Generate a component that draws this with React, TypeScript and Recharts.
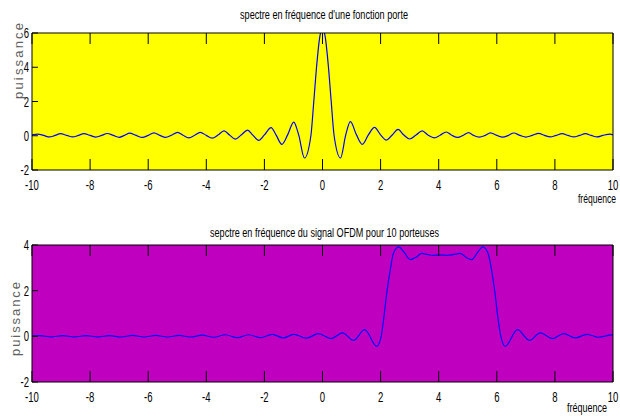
import { CartesianGrid, Line, LineChart, XAxis, YAxis } from "recharts";

const freqTicks = [-10, -8, -6, -4, -2, 0, 2, 4, 6, 8, 10];
const porteTicks = [-2, 0, 2, 4, 6];
const ofdmTicks = [-2, 0, 2, 4];

// spectre d'une fonction porte
const porteFreq = [
  -10, -9.8, -9.6, -9.4, -9.2, -9.02, -8.8, -8.6, -8.4, -8.21, -8.0, -7.8, -7.6, -7.41, -7.2, -7.0,
  -6.82, -6.64, -6.42, -6.2, -6.0, -5.8, -5.6, -5.4, -5.2, -4.99, -4.8, -4.6, -4.4, -4.21, -4.0, -3.8,
  -3.6, -3.39, -3.2, -3.0, -2.8, -2.58, -2.4, -2.2, -2.0, -1.77, -1.6, -1.4, -1.2, -0.99, -0.82, -0.62,
  -0.4, -0.3, -0.2, -0.1, 0, 0.1, 0.2, 0.3, 0.4, 0.62, 0.8, 0.96, 1.17, 1.37, 1.58, 1.79, 2.0, 2.2,
  2.4, 2.6, 2.8, 3.0, 3.22, 3.43, 3.64, 3.85, 4.05, 4.26, 4.45, 4.65, 4.85, 5.03, 5.2, 5.4, 5.6, 5.78,
  6.0, 6.2, 6.4, 6.58, 6.8, 7.0, 7.22, 7.44, 7.64, 7.84, 8.04, 8.25, 8.45, 8.65, 8.85, 9.05, 9.25,
  9.45, 9.65, 9.9, 10,
];
const portePower = [
  0.05, 0.1, 0.02, -0.07, 0.02, 0.12, 0.02, -0.07, 0.02, 0.12, 0.02, -0.08, 0.02, 0.13, 0.02, -0.09,
  0.02, 0.15, 0.02, -0.1, 0.02, 0.17, 0.02, -0.1, 0.03, 0.2, 0.03, -0.12, 0.03, 0.2, 0.02, -0.14,
  0.04, 0.29, 0.04, -0.2, 0.04, 0.33, 0.04, -0.27, 0.05, 0.47, 0.05, -0.5, 0.05, 0.8, 0.05, -1.3,
  0, 2.0, 4.1, 5.7, 6.28, 5.7, 4.1, 2.0, 0, -1.3, 0.05, 0.82, 0.05, -0.5, 0.05, 0.49, 0.05, -0.25,
  0.04, 0.37, 0.04, -0.19, 0.04, 0.29, 0.03, -0.12, 0.03, 0.22, 0.03, -0.1, 0.03, 0.18, 0.02, -0.08, 0.02, 0.17,
  0.02, -0.08, 0.02, 0.16, 0.02, -0.08, 0.02, 0.14, 0.02, -0.07, 0.02, 0.12, 0.02, -0.07, 0.02, 0.12, 0.02,
  -0.07, 0.02, 0.1, 0.05,
];

// spectre du signal OFDM, 10 porteuses
const ofdmFreq = [
  -10, -9.74, -9.34, -8.94, -8.54, -8.14, -7.74, -7.34, -6.94, -6.54, -6.14, -5.74, -5.34, -4.94,
  -4.54, -4.14, -3.74, -3.34, -2.94, -2.54, -2.13, -1.73, -1.35, -0.99, -0.55, -0.14, 0.29, 0.69,
  1.07, 1.45, 1.87, 2.02, 2.1, 2.21, 2.33, 2.44, 2.62, 2.8, 3.02, 3.2, 3.42, 3.62, 3.82, 4.05, 4.28,
  4.5, 4.74, 4.95, 5.14, 5.35, 5.52, 5.7, 5.82, 5.94, 6.05, 6.14, 6.29, 6.71, 7.13, 7.49, 7.93, 8.3,
  8.7, 9.1, 9.5, 9.96, 10,
];
const ofdmPower = [
  0.02, 0.03, -0.02, 0.03, -0.02, 0.03, -0.02, 0.03, -0.03, 0.04, -0.03, 0.04, -0.03, 0.04,
  -0.03, 0.05, -0.04, 0.07, -0.06, 0.07, -0.06, 0.09, -0.07, 0.09, -0.08, 0.12, -0.1, 0.15,
  -0.18, 0.29, -0.44, 0, 0.7, 1.87, 2.9, 3.63, 3.92, 3.7, 3.36, 3.45, 3.63, 3.58, 3.55, 3.56, 3.55,
  3.58, 3.63, 3.45, 3.36, 3.7, 3.92, 3.63, 2.9, 1.87, 0.7, 0, -0.44, 0.29, -0.18, 0.15, -0.1, 0.12,
  -0.07, 0.09, -0.04, 0.06, 0.05,
];

const porteData = porteFreq.map((f, i) => ({ f, p: portePower[i] }));
const ofdmData = ofdmFreq.map((f, i) => ({ f, p: ofdmPower[i] }));

const font = "'Liberation Sans', Arial, sans-serif";

const XTick = ({ x, y, payload, side }: any) => (
  <g>
    <line x1={x} y1={y} x2={x} y2={side === "bottom" ? y - 11 : y + 11} stroke="#000" />
    {side === "bottom" && (
      <text
        transform={`translate(${x},${y + 20}) scale(0.68,1)`}
        textAnchor="middle"
        fontSize={14}
        fontFamily={font}
        fill="#000"
      >
        {payload.value}
      </text>
    )}
  </g>
);

const YTick = ({ x, y, payload, side }: any) => (
  <g>
    <line x1={x} y1={y} x2={side === "left" ? x + 6 : x - 6} y2={y} stroke="#000" />
    {side === "left" && (
      <text
        transform={`translate(${x - 3},${y + 5}) scale(0.68,1)`}
        textAnchor="end"
        fontSize={14}
        fontFamily={font}
        fill="#000"
      >
        {payload.value}
      </text>
    )}
  </g>
);

type PanelProps = {
  data: { f: number; p: number }[];
  yTicks: number[];
  yDomain: [number, number];
  bg: string;
  margin: { top: number; right: number; bottom: number; left: number };
};

// axes of size 1 px: CartesianAxis draws nothing when its size is 0
const Panel = ({ data, yTicks, yDomain, bg, margin }: PanelProps) => (
  <LineChart width={620} height={208} data={data} margin={margin}>
    <CartesianGrid fill={bg} horizontal={false} vertical={false} />
    <XAxis
      dataKey="f"
      type="number"
      domain={[-10, 10]}
      ticks={freqTicks}
      interval={0}
      height={1}
      tickSize={0}
      tickMargin={0}
      tickLine={false}
      stroke="#000"
      allowDataOverflow
      tick={(props: any) => <XTick {...props} side="bottom" />}
    />
    <XAxis
      xAxisId="top"
      orientation="top"
      dataKey="f"
      type="number"
      domain={[-10, 10]}
      ticks={freqTicks}
      interval={0}
      height={1}
      tickSize={0}
      tickMargin={0}
      tickLine={false}
      stroke="#000"
      tick={(props: any) => <XTick {...props} side="top" />}
    />
    <YAxis
      type="number"
      domain={yDomain}
      ticks={yTicks}
      interval={0}
      width={1}
      tickSize={0}
      tickMargin={0}
      tickLine={false}
      stroke="#000"
      allowDataOverflow
      tick={(props: any) => <YTick {...props} side="left" />}
    />
    <YAxis
      yAxisId="right"
      orientation="right"
      type="number"
      domain={yDomain}
      ticks={yTicks}
      interval={0}
      width={1}
      tickSize={0}
      tickMargin={0}
      tickLine={false}
      stroke="#000"
      tick={(props: any) => <YTick {...props} side="right" />}
    />
    <Line
      dataKey="p"
      type="monotone"
      stroke="#0000FF"
      strokeWidth={1.2}
      dot={false}
      isAnimationActive={false}
    />
  </LineChart>
);

export default function App() {
  return (
    <div style={{ position: "absolute", left: 0, top: 0, width: 620, height: 416, background: "#fff" }}>
      <div style={{ position: "absolute", left: 0, top: 0 }}>
        <Panel
          data={porteData}
          yTicks={porteTicks}
          yDomain={[-2, 6]}
          bg="#FFFF00"
          margin={{ top: 32, right: 6, bottom: 37, left: 31 }}
        />
      </div>
      <div style={{ position: "absolute", left: 0, top: 208 }}>
        <Panel
          data={ofdmData}
          yTicks={ofdmTicks}
          yDomain={[-2, 4]}
          bg="#BF00BF"
          margin={{ top: 36, right: 6, bottom: 33, left: 31 }}
        />
      </div>
      <svg
        width={620}
        height={416}
        style={{ position: "absolute", left: 0, top: 0, pointerEvents: "none" }}
        fontFamily={font}
      >
        <text x={324} y={19} textAnchor="middle" fontSize={12} textLength={168} lengthAdjust="spacingAndGlyphs">
          spectre en fréquence d'une fonction porte
        </text>
        <text x={324.5} y={237} textAnchor="middle" fontSize={12} textLength={229} lengthAdjust="spacingAndGlyphs">
          sepctre en fréquence du signal OFDM pour 10 porteuses
        </text>
        <text x={597} y={203} textAnchor="middle" fontSize={13} textLength={38} lengthAdjust="spacingAndGlyphs">
          fréquence
        </text>
        <text x={587} y={412} textAnchor="middle" fontSize={13} textLength={40} lengthAdjust="spacingAndGlyphs">
          fréquence
        </text>
        <text
          transform="translate(23,61) rotate(-90)"
          textAnchor="middle"
          fontSize={13}
          fill="#606060"
          textLength={76}
          lengthAdjust="spacing"
        >
          puissance
        </text>
        <text
          transform="translate(20,319) rotate(-90)"
          textAnchor="middle"
          fontSize={13}
          fill="#606060"
          textLength={74}
          lengthAdjust="spacing"
        >
          puissance
        </text>
      </svg>
    </div>
  );
}
